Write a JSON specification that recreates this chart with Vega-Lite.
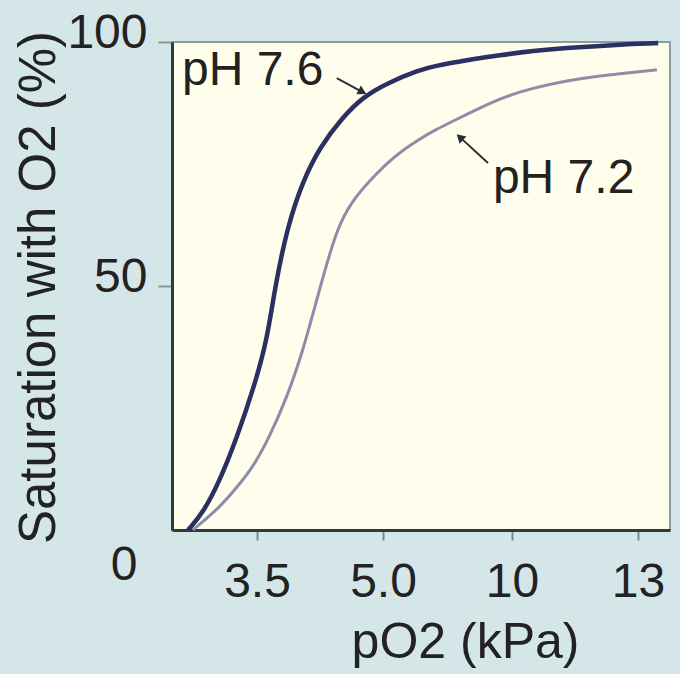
{
  "$schema": "https://vega.github.io/schema/vega-lite/v6.json",
  "width": 498,
  "height": 488,
  "autosize": {"type": "none"},
  "padding": {"left": 172, "top": 42, "right": 10, "bottom": 144},
  "background": "#d5e6e8",
  "config": {
    "font": "Liberation Sans",
    "view": {"fill": "#fffdeb", "stroke": "#8c9c9c", "strokeWidth": 2}
  },
  "datasets": {
    "curves": [
      {"series": "pH 7.6", "pO2": 0.66, "sat": 0},
      {"series": "pH 7.6", "pO2": 1.28, "sat": 3.5},
      {"series": "pH 7.6", "pO2": 1.98, "sat": 10.2},
      {"series": "pH 7.6", "pO2": 2.68, "sat": 19.1},
      {"series": "pH 7.6", "pO2": 3.34, "sat": 28.7},
      {"series": "pH 7.6", "pO2": 3.62, "sat": 38.9},
      {"series": "pH 7.6", "pO2": 3.71, "sat": 49.4},
      {"series": "pH 7.6", "pO2": 3.86, "sat": 62.1},
      {"series": "pH 7.6", "pO2": 4.05, "sat": 71.7},
      {"series": "pH 7.6", "pO2": 4.25, "sat": 78.5},
      {"series": "pH 7.6", "pO2": 4.52, "sat": 84.6},
      {"series": "pH 7.6", "pO2": 4.76, "sat": 88.7},
      {"series": "pH 7.6", "pO2": 5.16, "sat": 91.6},
      {"series": "pH 7.6", "pO2": 6.43, "sat": 94.3},
      {"series": "pH 7.6", "pO2": 6.94, "sat": 95.0},
      {"series": "pH 7.6", "pO2": 8.26, "sat": 96.3},
      {"series": "pH 7.6", "pO2": 9.53, "sat": 97.3},
      {"series": "pH 7.6", "pO2": 10.5, "sat": 98.2},
      {"series": "pH 7.6", "pO2": 11.31, "sat": 98.8},
      {"series": "pH 7.6", "pO2": 12.1, "sat": 99.2},
      {"series": "pH 7.6", "pO2": 12.88, "sat": 99.6},
      {"series": "pH 7.6", "pO2": 13.48, "sat": 99.8},
      {"series": "pH 7.2", "pO2": 0.86, "sat": 0},
      {"series": "pH 7.2", "pO2": 1.98, "sat": 4.7},
      {"series": "pH 7.2", "pO2": 2.68, "sat": 8.8},
      {"series": "pH 7.2", "pO2": 3.34, "sat": 12.9},
      {"series": "pH 7.2", "pO2": 3.65, "sat": 19.1},
      {"series": "pH 7.2", "pO2": 3.86, "sat": 27.3},
      {"series": "pH 7.2", "pO2": 4.05, "sat": 36.9},
      {"series": "pH 7.2", "pO2": 4.21, "sat": 47.1},
      {"series": "pH 7.2", "pO2": 4.45, "sat": 62.1},
      {"series": "pH 7.2", "pO2": 4.64, "sat": 67.6},
      {"series": "pH 7.2", "pO2": 4.85, "sat": 71.7},
      {"series": "pH 7.2", "pO2": 5.16, "sat": 75.2},
      {"series": "pH 7.2", "pO2": 5.78, "sat": 77.9},
      {"series": "pH 7.2", "pO2": 6.43, "sat": 80.1},
      {"series": "pH 7.2", "pO2": 6.94, "sat": 81.8},
      {"series": "pH 7.2", "pO2": 8.26, "sat": 85.2},
      {"series": "pH 7.2", "pO2": 9.53, "sat": 88.5},
      {"series": "pH 7.2", "pO2": 10.5, "sat": 90.6},
      {"series": "pH 7.2", "pO2": 11.31, "sat": 92.1},
      {"series": "pH 7.2", "pO2": 12.1, "sat": 93.1},
      {"series": "pH 7.2", "pO2": 12.88, "sat": 93.8},
      {"series": "pH 7.2", "pO2": 13.45, "sat": 94.3}
    ],
    "notes": [
      {"label": "pH 7.6", "pO2": 0.41, "sat": 91.2},
      {"label": "pH 7.2", "pO2": 9.26, "sat": 69.1}
    ],
    "arrows": [
      {"label": "pH 7.6", "pO2": 4.45, "sat": 92.6, "pO2_end": 4.74, "sat_end": 89.9},
      {"label": "pH 7.2", "pO2": 9.07, "sat": 75.2, "pO2_end": 8.02, "sat_end": 80.3}
    ]
  },
  "layer": [
    {
      "data": {"name": "curves"},
      "mark": {"type": "line", "interpolate": "basis"},
      "encoding": {
        "x": {
          "field": "pO2",
          "type": "quantitative",
          "scale": {"domain": [0, 3.5, 5, 10, 13, 13.76], "range": [0, 85, 211, 340, 466, 498], "nice": false, "zero": false},
          "axis": {
            "values": [3.5, 5, 10, 13],
            "labelExpr": "datum.value < 10 ? format(datum.value, '.1f') : format(datum.value, 'd')",
            "title": "pO2 (kPa)",
            "titleFontSize": 50,
            "titleFontWeight": "normal",
            "titleColor": "#222222",
            "titleX": 293,
            "titleY": 127,
            "titleAlign": "center",
            "titleBaseline": "alphabetic",
            "labelFontSize": 48,
            "labelColor": "#222222",
            "labelBaseline": "alphabetic",
            "labelPadding": 56,
            "labelFlush": false,
            "labelOverlap": false,
            "tickSize": 10,
            "tickWidth": 2,
            "tickColor": "#7d8a8a",
            "domainColor": "#333838",
            "domainWidth": 3,
            "grid": false
          }
        },
        "y": {
          "field": "sat",
          "type": "quantitative",
          "scale": {"domain": [0, 100], "nice": false},
          "axis": {
            "values": [0, 50, 100],
            "title": "Saturation with O2 (%)",
            "titleFontSize": 51,
            "titleFontWeight": "normal",
            "titleColor": "#222222",
            "titleAngle": 270,
            "titleX": -133,
            "titleY": 245,
            "titleAlign": "center",
            "titleBaseline": "middle",
            "labelFontSize": 48,
            "labelColor": "#222222",
            "labelBaseline": "middle",
            "labelPadding": {"condition": {"test": "datum.value === 0", "value": 21}, "value": 11},
            "labelOffset": {"condition": {"test": "datum.value === 0", "value": 35}, "value": -9},
            "labelOverlap": false,
            "labelFlush": false,
            "tickSize": 14,
            "tickWidth": 2,
            "tickColor": "#8a9898",
            "tickOpacity": {"condition": {"test": "datum.value === 0", "value": 0}, "value": 1},
            "domainColor": "#333838",
            "domainWidth": 3,
            "grid": false
          }
        },
        "color": {"field": "series", "type": "nominal", "scale": {"domain": ["pH 7.6", "pH 7.2"], "range": ["#2a3062", "#8e8ca8"]}, "legend": null},
        "strokeWidth": {"field": "series", "type": "nominal", "scale": {"domain": ["pH 7.6", "pH 7.2"], "range": [4.5, 3]}, "legend": null}
      }
    },
    {
      "data": {"name": "arrows"},
      "mark": {"type": "rule", "color": "#2a2e3a", "strokeWidth": 2},
      "encoding": {
        "x": {"field": "pO2", "type": "quantitative"},
        "y": {"field": "sat", "type": "quantitative"},
        "x2": {"field": "pO2_end"},
        "y2": {"field": "sat_end"}
      }
    },
    {
      "data": {"name": "arrows"},
      "transform": [{"filter": "datum.label === 'pH 7.6'"}],
      "mark": {"type": "point", "shape": "triangle", "filled": true, "color": "#2a2e3a", "size": 100, "angle": 118, "opacity": 1},
      "encoding": {
        "x": {"field": "pO2_end", "type": "quantitative"},
        "y": {"field": "sat_end", "type": "quantitative"}
      }
    },
    {
      "data": {"name": "arrows"},
      "transform": [{"filter": "datum.label === 'pH 7.2'"}],
      "mark": {"type": "point", "shape": "triangle", "filled": true, "color": "#2a2e3a", "size": 100, "angle": 313, "opacity": 1},
      "encoding": {
        "x": {"field": "pO2_end", "type": "quantitative"},
        "y": {"field": "sat_end", "type": "quantitative"}
      }
    },
    {
      "data": {"name": "notes"},
      "mark": {"type": "text", "align": "left", "baseline": "alphabetic", "fontSize": 48, "color": "#222222"},
      "encoding": {
        "x": {"field": "pO2", "type": "quantitative"},
        "y": {"field": "sat", "type": "quantitative"},
        "text": {"field": "label"}
      }
    }
  ]
}
